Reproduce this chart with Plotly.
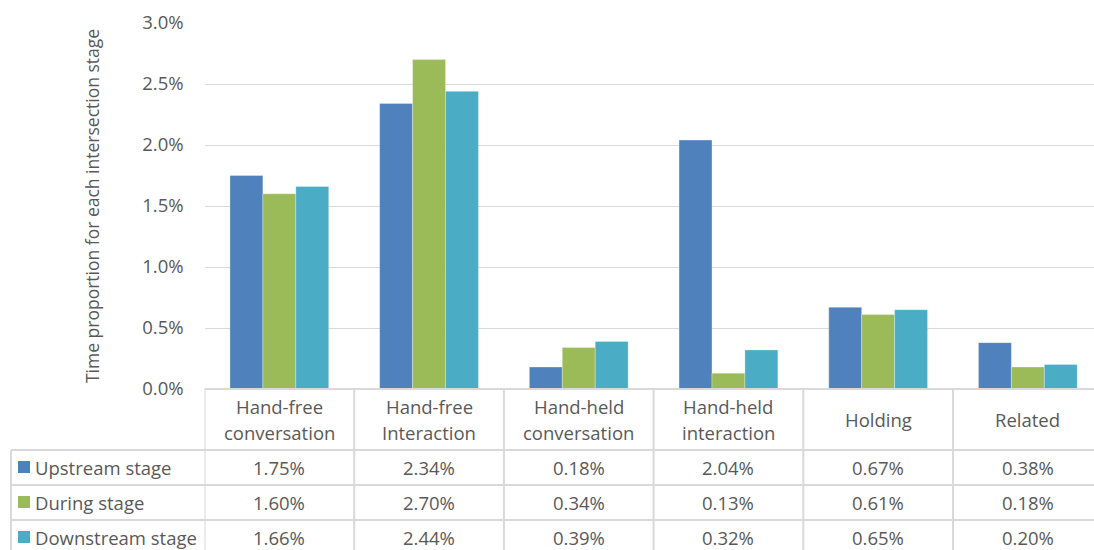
import plotly.graph_objects as go

# Data
categories = ["Hand-free<br>conversation", "Hand-free<br>Interaction", "Hand-held<br>conversation",
              "Hand-held<br>interaction", "Holding", "Related"]
series_names = ["Upstream stage", "During stage", "Downstream stage"]
upstream = [0.0175, 0.0234, 0.0018, 0.0204, 0.0067, 0.0038]
during = [0.0160, 0.0270, 0.0034, 0.0013, 0.0061, 0.0018]
downstream = [0.0166, 0.0244, 0.0039, 0.0032, 0.0065, 0.0020]
colors = ["#4F81BD", "#9BBB59", "#4BACC6"]

W, H = 1094, 550
FONT = "'Open Sans', sans-serif"
FS = 18.5
TXT = "#595959"
GRID = "#D9D9D9"


def px(x):
    return x / W


def py(y):
    return 1 - y / H


x_idx = list(range(len(categories)))
fig = go.Figure()
for name, vals, col in zip(series_names, [upstream, during, downstream], colors):
    fig.add_trace(go.Bar(x=x_idx, y=vals, name=name,
                         marker=dict(color=col, line=dict(width=0.6, color="rgba(255,255,255,0.5)")),
                         showlegend=False))

# plot area geometry (pixels)
left, top, base = 204.5, 23, 389
cat_w = 149.7
right_range = -0.5 + (W - left) / cat_w

fig.update_layout(
    width=W, height=H,
    margin=dict(l=0, r=0, t=0, b=0, autoexpand=False),
    paper_bgcolor="white", plot_bgcolor="white",
    barmode="group", bargap=0.34, bargroupgap=0,
    font=dict(family=FONT, color=TXT, size=FS),
    xaxis=dict(domain=[px(left), 1], range=[-0.5, right_range], showticklabels=False,
               showgrid=False, zeroline=False, showline=False, fixedrange=True, automargin=False),
    yaxis=dict(domain=[py(base), py(top)], range=[0, 0.03], tickformat=".1%", dtick=0.005,
               showgrid=True, gridcolor=GRID, gridwidth=1, zeroline=False, showline=False,
               ticks="", ticklabelstandoff=20, automargin=False,
               tickfont=dict(size=FS, color=TXT, family=FONT),
               title=dict(text="Time proportion for each intersection stage", standoff=38,
                          font=dict(size=17.5, color=TXT, family=FONT))),
)

# Data table below the plot
shapes = []
row_lines = [450, 485, 520]
table_left = 11
bottom = 560
line = dict(color=GRID, width=2)
# header top edge (category axis line)
shapes.append(dict(type="line", xref="x", yref="paper", x0=-0.5, x1=right_range + 1,
                   y0=py(base), y1=py(base), line=line))
for ry in row_lines:
    shapes.append(dict(type="line", xref="paper", yref="paper", x0=px(table_left), x1=1.02,
                       y0=py(ry), y1=py(ry), line=line))
for i in range(len(categories) + 1):
    shapes.append(dict(type="line", xref="x", yref="paper", x0=i - 0.5, x1=i - 0.5,
                       y0=py(base), y1=py(bottom), line=line))
shapes.append(dict(type="line", xref="paper", yref="paper", x0=px(table_left), x1=px(table_left),
                   y0=py(row_lines[0]), y1=py(bottom), line=line))

annotations = []
# category header cells, one annotation per text line
for i, c in enumerate(categories):
    parts = c.split("<br>")
    ys = [419] if len(parts) == 1 else [406, 432]
    for part, yl in zip(parts, ys):
        annotations.append(dict(x=i, y=py(yl), xref="x", yref="paper", text=part, showarrow=False,
                                xanchor="center", yanchor="middle",
                                font=dict(size=FS, color=TXT, family=FONT)))
row_centers = [467, 502, 537]
for name, vals, col, yc in zip(series_names, [upstream, during, downstream], colors, row_centers):
    shapes.append(dict(type="rect", xref="paper", yref="paper", x0=px(18), x1=px(30),
                       y0=py(yc - 6), y1=py(yc + 6), fillcolor=col, line=dict(width=0)))
    annotations.append(dict(x=px(33), y=py(yc), xref="paper", yref="paper", text=name,
                            showarrow=False, xanchor="left", yanchor="middle",
                            font=dict(size=FS, color=TXT, family=FONT)))
    for i, v in enumerate(vals):
        annotations.append(dict(x=i, y=py(yc), xref="x", yref="paper", text=f"{v * 100:.2f}%",
                                showarrow=False, xanchor="center", yanchor="middle",
                                font=dict(size=FS, color=TXT, family=FONT)))

fig.update_layout(shapes=shapes, annotations=annotations)
fig.write_html("out.html")
